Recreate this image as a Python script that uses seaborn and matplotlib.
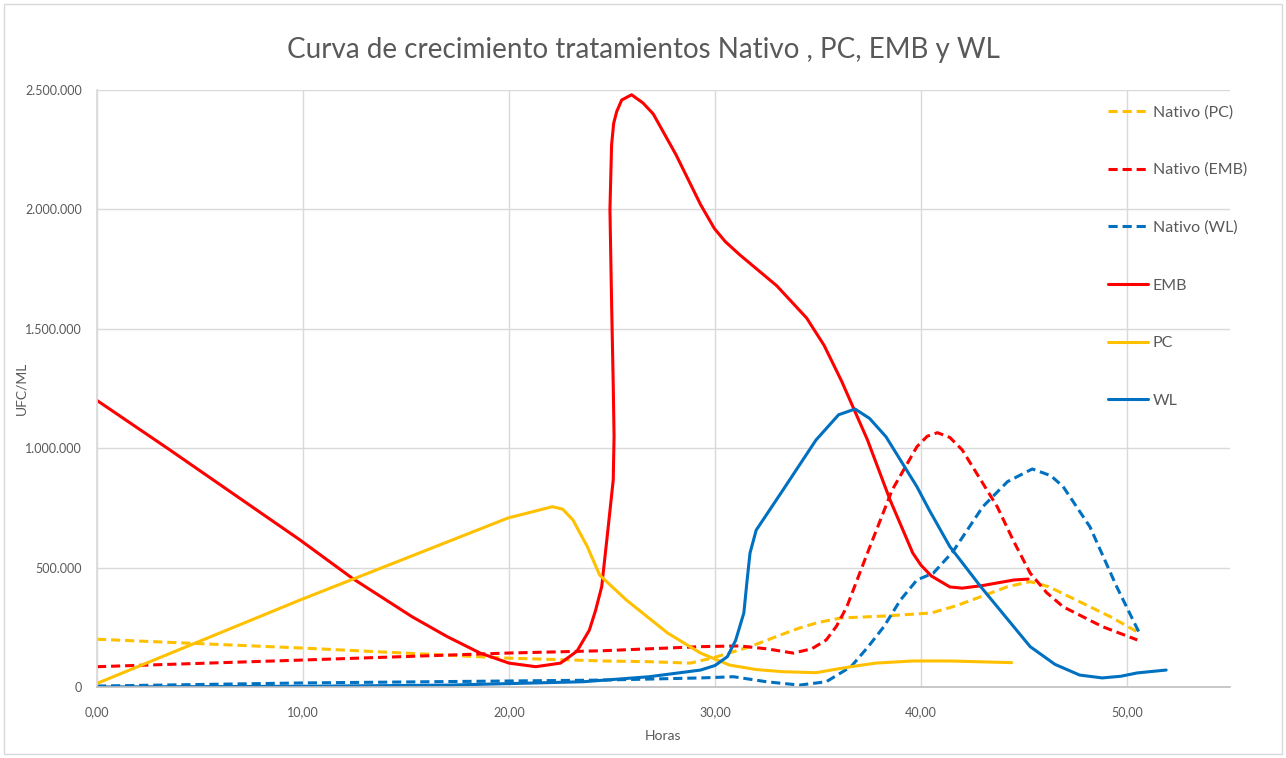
import matplotlib
matplotlib.use("Agg")
import matplotlib.pyplot as plt
from matplotlib.patches import Rectangle
from matplotlib.ticker import FuncFormatter, MultipleLocator
import seaborn as sns

# valores (horas, UFC/ML)
nat_pc_x = [0, 10, 19.9, 24.6, 26.8, 28.8, 29.9, 30.9, 31.7, 33.0, 34.1, 35.0, 36.1, 38.2,
            40.5, 41.7, 42.9, 44.2, 45.3, 46.2, 47.2, 49.2, 50.6]
nat_pc_y = [200000, 163000, 121000, 109000, 106000, 100000, 122000, 148000, 169000, 212000,
            247000, 270000, 289000, 297000, 310000, 340000, 378000, 420000, 441000, 420000,
            378000, 294000, 226000]

nat_emb_x = [0, 10, 19.9, 24.6, 29.3, 31.2, 32.5, 33.8, 34.7, 35.4, 35.9, 36.4, 37.4, 38.6,
             39.8, 40.3, 40.8, 41.4, 42.0, 43.7, 44.5, 45.3, 46.1, 46.9, 48.8, 50.5]
nat_emb_y = [85000, 113000, 142000, 152000, 169000, 172000, 160000, 142000, 160000, 197000,
             255000, 336000, 561000, 825000, 1006000, 1050000, 1065000, 1045000, 993000,
             755000, 610000, 477000, 395000, 336000, 253000, 197000]

nat_wl_x = [0, 10, 24.6, 29.3, 30.9, 32.5, 34.1, 35.4, 36.6, 37.4, 38.2, 39.0, 39.8, 40.6,
            41.55, 43.0, 44.2, 45.4, 46.3, 46.9, 48.2, 49.5, 50.6]
nat_wl_y = [4000, 17000, 29000, 38000, 43000, 22000, 8000, 22000, 85000, 165000, 253000,
            364000, 448000, 477000, 567000, 755000, 860000, 913000, 885000, 839000, 671000,
            420000, 226000]

emb_x = [0, 3.5, 9.85, 12.4, 15.3, 17.0, 18.6, 20.0, 21.3, 22.5, 23.3, 23.9, 24.2, 24.5,
         24.8, 25.06, 25.1, 25.06, 24.98, 24.9, 24.98, 25.08, 25.23, 25.47, 25.95, 26.5,
         27.0, 28.1, 29.3, 29.97, 30.5, 31.2, 33.0, 34.45, 35.3, 36.15, 37.4, 38.5, 39.6,
         40.0, 40.5, 41.4, 42.0, 43.0, 44.5, 45.2]
emb_y = [1200000, 995000, 616000, 455000, 294000, 211000, 142000, 100000, 85000, 100000,
         150000, 238000, 320000, 420000, 657000, 867000, 1050000, 1265000, 1610000, 2000000,
         2270000, 2360000, 2410000, 2458000, 2480000, 2446000, 2400000, 2230000, 2020000,
         1920000, 1865000, 1810000, 1680000, 1545000, 1430000, 1280000, 1035000, 783000,
         561000, 510000, 465000, 419000, 414000, 425000, 448000, 452000]

pc_x = [0, 9.85, 19.96, 21.2, 22.1, 22.6, 23.1, 23.8, 24.4, 25.0, 25.7, 27.7, 29.3, 30.7,
        32.0, 33.3, 34.9, 36.6, 37.8, 39.6, 41.4, 44.4]
pc_y = [15000, 364000, 708000, 735000, 755000, 745000, 700000, 588000, 469000, 420000,
        364000, 226000, 142000, 92000, 73000, 64000, 60000, 85000, 100000, 109000, 109000,
        102000]

wl_x = [0, 10, 17.1, 23.6, 26.8, 29.3, 30.0, 30.6, 31.0, 31.4, 31.55, 31.7, 32.0, 33.3,
        34.9, 36.0, 36.8, 37.5, 38.3, 39.8, 40.4, 41.4, 42.9, 45.3, 46.5, 47.7, 48.8, 49.7,
        50.5, 51.9]
wl_y = [0, 3000, 8000, 22000, 43000, 71000, 90000, 127000, 195000, 310000, 440000, 561000,
        657000, 825000, 1034000, 1140000, 1164000, 1125000, 1048000, 839000, 741000, 588000,
        420000, 169000, 95000, 50000, 38000, 45000, 59000, 71000]

AMARILLO = "#FFC000"
ROJO = "#FF0000"
AZUL = "#0070C0"
GRIS = "#595959"

sns.set_theme(style="white")
plt.rcParams['font.family'] = ['Lato', 'DejaVu Sans']

fig = plt.figure(figsize=(12.86, 7.58), dpi=100)
ax = fig.add_axes([97 / 1286, 71 / 758, (1230 - 97) / 1286, (687 - 90) / 758])

dash = (0, (3, 1.6))
series = [
    (nat_pc_x, nat_pc_y, AMARILLO, dash, "Nativo (PC)"),
    (nat_emb_x, nat_emb_y, ROJO, dash, "Nativo (EMB)"),
    (nat_wl_x, nat_wl_y, AZUL, dash, "Nativo (WL)"),
    (emb_x, emb_y, ROJO, "-", "EMB"),
    (pc_x, pc_y, AMARILLO, "-", "PC"),
    (wl_x, wl_y, AZUL, "-", "WL"),
]
for xs, ys, col, ls, lab in series:
    sns.lineplot(x=xs, y=ys, ax=ax, sort=False, estimator=None, color=col,
                 linestyle=ls, linewidth=2.2, label=lab,
                 solid_joinstyle="round", dash_joinstyle="round")

ax.set_xlim(0, 55)
ax.set_ylim(0, 2500000)
ax.xaxis.set_major_locator(MultipleLocator(10))
ax.yaxis.set_major_locator(MultipleLocator(500000))
ax.xaxis.set_major_formatter(FuncFormatter(lambda v, p: f"{v:.2f}".replace(".", ",")))
ax.yaxis.set_major_formatter(FuncFormatter(lambda v, p: f"{int(v):,}".replace(",", ".")))
ax.grid(True, color="#D9D9D9", linewidth=1)
ax.set_axisbelow(True)
for s in ["top", "right"]:
    ax.spines[s].set_visible(False)
ax.spines["left"].set_color("#D9D9D9")
ax.spines["bottom"].set_color("#BFBFBF")
ax.spines["bottom"].set_linewidth(1.2)
ax.tick_params(axis="both", length=0, colors=GRIS, labelsize=9)
ax.tick_params(axis="y", pad=11)
ax.tick_params(axis="x", pad=14)

ax.set_xlabel("Horas", color=GRIS, fontsize=10, labelpad=8)
ax.set_ylabel("UFC/ML", color=GRIS, fontsize=10)
ax.yaxis.set_label_coords(-70 / 1133, 0.5)

fig.text(0.5, 1 - 50 / 758, "Curva de crecimiento tratamientos Nativo , PC, EMB y WL",
         ha="center", va="center", fontsize=20, color=GRIS)

ax.legend(loc="upper left", bbox_to_anchor=(1108 / 1286, 1 - 105 / 758),
          bbox_transform=fig.transFigure, frameon=False, fontsize=11.5,
          handlelength=2.5, handletextpad=0.3, labelspacing=2.72, borderpad=0,
          borderaxespad=0, labelcolor=GRIS)

fig.patches.append(Rectangle((4 / 1286, 4 / 758), 1278 / 1286, 750 / 758,
                             transform=fig.transFigure, fill=False,
                             edgecolor="#D9D9D9", linewidth=1))

fig.savefig("out.png", dpi=100)
